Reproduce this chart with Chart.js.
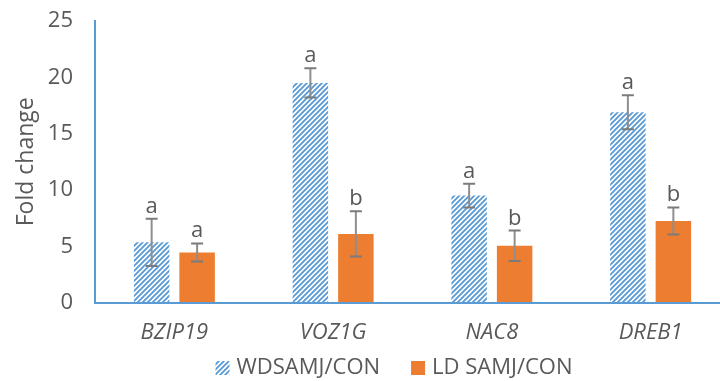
<!DOCTYPE html>
<html>
<head>
<meta charset="utf-8">
<script src="https://cdn.jsdelivr.net/npm/chart.js@4.4.1/dist/chart.umd.min.js"></script>
<style>
  html, body { margin: 0; padding: 0; background: #ffffff; overflow: hidden; }
  #wrap { width: 720px; height: 381px; overflow: hidden; }
  canvas { display: block; }
</style>
</head>
<body>
<div id="wrap"><canvas id="chart" width="740" height="381"></canvas></div>
<script>
// Gene categories
const genes = ['BZIP19', 'VOZ1G', 'NAC8', 'DREB1'];

// Fold change, mean values
const wdValues = [5.35, 19.5, 9.5, 16.9];
const ldValues = [4.45, 6.1, 5.05, 7.25];

// Error bar half-lengths
const wdErrors = [2.1, 1.3, 1.05, 1.5];
const ldErrors = [0.8, 2.0, 1.35, 1.2];

// Significance letters
const wdLetters = ['a', 'a', 'a', 'a'];
const ldLetters = ['a', 'b', 'b', 'b'];

// Y axis ticks
const yTicks = [0, 5, 10, 15, 20, 25];

const textColor = '#595959';
const blue = '#5B9BD5';
const orange = '#ED7D31';
const fontFamily = '"Open Sans", "Noto Sans", sans-serif';
const fontSize = 22;

// Diagonal stripe fill for the first series
function stripePattern(color) {
  const s = 5;
  const tile = document.createElement('canvas');
  tile.width = s; tile.height = s;
  const g = tile.getContext('2d');
  g.strokeStyle = color;
  g.lineWidth = 1.9;
  g.beginPath();
  g.moveTo(-1, s + 1); g.lineTo(s + 1, -1);
  g.moveTo(-1, 1); g.lineTo(1, -1);
  g.moveTo(s - 1, s + 1); g.lineTo(s + 1, s - 1);
  g.stroke();
  return document.createElement('canvas').getContext('2d').createPattern(tile, 'repeat');
}

// Error bars and letters above each bar
const errorBars = {
  id: 'errorBars',
  afterDatasetsDraw(chart) {
    const ctx = chart.ctx;
    const yScale = chart.scales.y;
    chart.data.datasets.forEach((ds, i) => {
      const meta = chart.getDatasetMeta(i);
      meta.data.forEach((bar, j) => {
        const v = ds.data[j];
        const e = ds.errors[j];
        const x = bar.x;
        const yHi = yScale.getPixelForValue(v + e);
        const yLo = yScale.getPixelForValue(v - e);
        ctx.save();
        ctx.lineWidth = 2;
        ctx.strokeStyle = '#8e8e8e';
        ctx.beginPath();
        ctx.moveTo(x, yHi); ctx.lineTo(x, yLo);
        ctx.stroke();
        ctx.strokeStyle = '#7b7b7b';
        ctx.beginPath();
        ctx.moveTo(x - 6, yHi); ctx.lineTo(x + 6, yHi);
        ctx.moveTo(x - 6, yLo); ctx.lineTo(x + 6, yLo);
        ctx.stroke();
        ctx.fillStyle = textColor;
        ctx.font = fontSize + 'px ' + fontFamily;
        ctx.textAlign = 'center';
        ctx.textBaseline = 'alphabetic';
        ctx.fillText(ds.letters[j], x, yHi - 6);
        ctx.restore();
      });
    });
  }
};

// Legend row under the category labels
const legendRow = {
  id: 'legendRow',
  afterDraw(chart) {
    const ctx = chart.ctx;
    const box = 14, boxGap = 7, itemGap = 31;
    const centerX = 394, centerY = 368;
    ctx.save();
    ctx.font = fontSize + 'px ' + fontFamily;
    const items = chart.data.datasets.map(ds => ({
      label: ds.label, fill: ds.backgroundColor, w: ctx.measureText(ds.label).width
    }));
    let total = 0;
    items.forEach((it, k) => { total += box + boxGap + it.w + (k ? itemGap : 0); });
    let x = centerX - total / 2;
    items.forEach(it => {
      ctx.fillStyle = it.fill;
      ctx.fillRect(x, centerY - box / 2, box, box);
      ctx.fillStyle = textColor;
      ctx.textAlign = 'left';
      ctx.textBaseline = 'middle';
      ctx.fillText(it.label, x + box + boxGap, centerY);
      x += box + boxGap + it.w + itemGap;
    });
    ctx.restore();
  }
};

new Chart(document.getElementById('chart'), {
  type: 'bar',
  data: {
    labels: genes,
    datasets: [
      {
        label: 'WDSAMJ/CON',
        data: wdValues,
        errors: wdErrors,
        letters: wdLetters,
        backgroundColor: stripePattern(blue),
        borderWidth: 0,
        categoryPercentage: 0.573,
        barPercentage: 0.78
      },
      {
        label: 'LD SAMJ/CON',
        data: ldValues,
        errors: ldErrors,
        letters: ldLetters,
        backgroundColor: orange,
        borderWidth: 0,
        categoryPercentage: 0.573,
        barPercentage: 0.78
      }
    ]
  },
  options: {
    responsive: false,
    animation: false,
    devicePixelRatio: 1,
    layout: { padding: { left: 0, right: 10, top: 21, bottom: 18 } },
    plugins: {
      tooltip: { enabled: false },
      legend: { display: false }
    },
    scales: {
      x: {
        grid: { color: 'transparent', drawTicks: false },
        border: { color: blue, width: 2 },
        ticks: {
          color: textColor,
          padding: 17,
          font: { family: fontFamily, size: fontSize, style: 'italic' }
        }
      },
      y: {
        min: 0,
        max: 25,
        afterBuildTicks(scale) { scale.ticks = yTicks.map(v => ({ value: v })); },
        afterFit(scale) { scale.width = 95; scale.paddingTop = 0; },
        grid: { color: 'transparent', drawTicks: false },
        border: { color: blue, width: 2 },
        ticks: {
          color: textColor,
          padding: 22,
          font: { family: fontFamily, size: fontSize }
        },
        title: {
          display: true,
          text: 'Fold change',
          color: textColor,
          padding: { top: 13, bottom: 0 },
          font: { family: fontFamily, size: 23 }
        }
      }
    }
  },
  plugins: [errorBars, legendRow]
});
</script>
</body>
</html>
